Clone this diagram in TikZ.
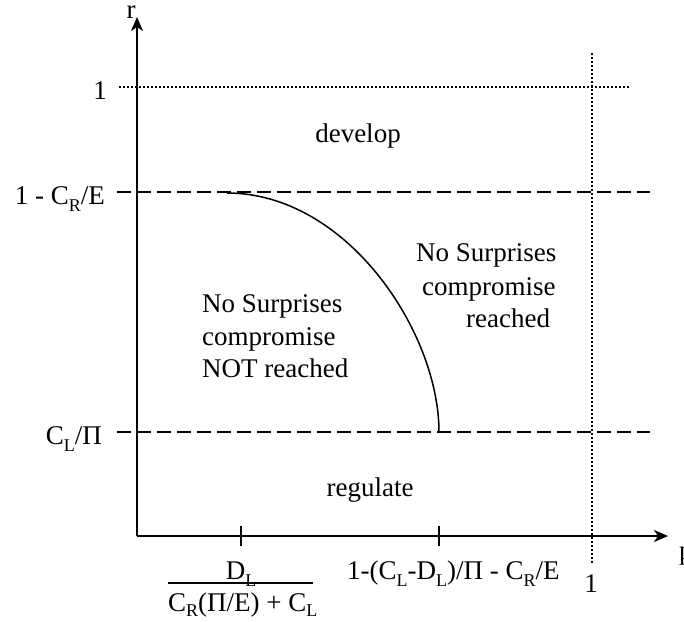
\documentclass[tikz,border=0pt]{standalone}
\usepackage{fontspec}
\setmainfont{Liberation Serif}
\usetikzlibrary{arrows.meta}
\newcommand{\subtx}[1]{\raisebox{-7pt}{\fontsize{18}{18}\selectfont #1}}
\newcommand{\subtxb}[1]{\raisebox{-5pt}{\fontsize{18}{18}\selectfont #1}}
\begin{document}
\begin{tikzpicture}[x=1pt,y=-1pt,
  axis/.style={line width=1.8pt,-{Stealth[length=14pt,width=12pt,inset=4pt]}},
  dashline/.style={line width=1.8pt,dash pattern=on 14pt off 6pt},
  dotline/.style={line width=2pt,dash pattern=on 2pt off 2pt},
  lbl/.style={inner sep=0pt,font=\fontsize{27}{33}\selectfont},
  tickmark/.style={line width=1.5pt},
  curveline/.style={line width=1.5pt}]
\useasboundingbox (0,0) rectangle (684,621);
% axes
\coordinate (O) at (137,536);
\coordinate (ytip) at (137,17);
\coordinate (xtip) at (668,536);
\draw[axis] (O) -- (ytip);
\draw[axis] (O) -- (xtip);
\node[lbl,anchor=base,text height=12pt] (r) at (131,18) {r};
\node[lbl,anchor=base west] (p) at (679,559) {p};
% dotted reference lines
\coordinate (d1a) at (119,87);
\coordinate (d1b) at (629,87);
\coordinate (d2a) at (592,53);
\coordinate (d2b) at (592,563);
\draw[dotline] (d1a) -- (d1b);
\draw[dotline] (d2a) -- (d2b);
% dashed lines
\coordinate (h1a) at (117,192);
\coordinate (h1b) at (650,192);
\coordinate (h2a) at (117,432);
\coordinate (h2b) at (650,432);
\draw[dashline] (h1a) -- (h1b);
\draw[dashline] (h2a) -- (h2b);
% curve
\coordinate (c0) at (227,193);
\coordinate (c3) at (439,432);
\draw[curveline] (c0) .. controls (347,193) and (439,332) .. (c3);
% ticks
\coordinate (t1a) at (241,526);
\coordinate (t1b) at (241,546);
\coordinate (t2a) at (439,526);
\coordinate (t2b) at (439,546);
\draw[tickmark] (t1a) -- (t1b);
\draw[tickmark] (t2a) -- (t2b);
% y labels
\node[lbl,anchor=base east] (y1) at (107,99) {1};
\node[lbl,anchor=base east] (y2) at (105,204) {1 - C\subtx{R}/E};
\node[lbl,anchor=base east] (y3) at (102,444) {C\subtx{L}/Π};
% x labels
\coordinate (fa) at (168,583);
\coordinate (fb) at (313,583);
\draw[line width=1.3pt] (fa) -- (fb);
\node[lbl,anchor=base] (xnum) at (241,579) {D\subtx{L}};
\node[lbl,anchor=base west] (xden) at (168,611) {C\subtxb{R}(Π/E) + C\subtxb{L}};
\node[lbl,anchor=base west] (x2) at (347,579) {1-(C\subtx{L}-D\subtx{L})/Π - C\subtx{R}/E};
\node[lbl,anchor=base] (x3) at (591,592) {1};
% region labels
\node[lbl,anchor=base] (dev) at (358,142) {develop};
\node[lbl,anchor=base] (reg) at (370,496) {regulate};
\node[lbl,anchor=base west] (l1) at (202,312) {No Surprises};
\node[lbl,anchor=base west] (l2) at (202,345) {compromise};
\node[lbl,anchor=base west] (l3) at (202,377) {NOT reached};
\node[lbl,anchor=base west] (r1) at (416,261) {No Surprises};
\node[lbl,anchor=base west] (r2) at (422,295) {compromise};
\node[lbl,anchor=base west] (r3) at (466,327) {reached};
\end{tikzpicture}
\end{document}
